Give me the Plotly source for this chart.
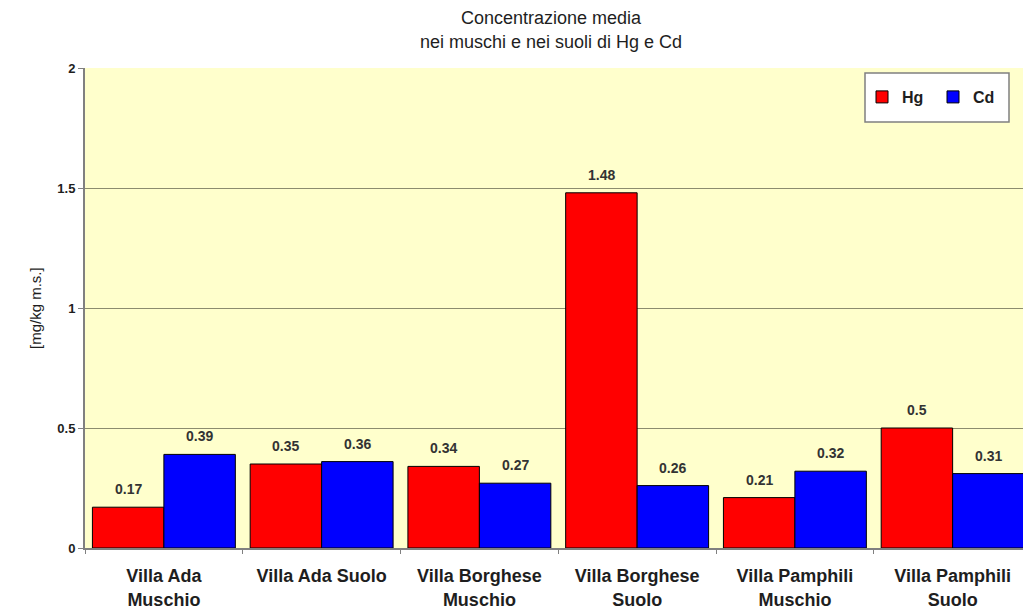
import plotly.graph_objects as go

categories = [
    "Villa Ada<br>Muschio",
    "Villa Ada Suolo",
    "Villa Borghese<br>Muschio",
    "Villa Borghese<br>Suolo",
    "Villa Pamphili<br>Muschio",
    "Villa Pamphili<br>Suolo",
]
hg = [0.17, 0.35, 0.34, 1.48, 0.21, 0.5]
cd = [0.39, 0.36, 0.27, 0.26, 0.32, 0.31]

title_lines = ["Concentrazione media", "nei muschi e nei suoli di Hg e Cd"]
y_title = "[mg/kg m.s.]"

series = [("Hg", hg, "#FF0000"), ("Cd", cd, "#0000FF")]

font_family = "Liberation Sans, Arial, sans-serif"
text_color = "#1E1E1E"
bar_gap = 0.094

# figure geometry (pixels) used to place paper-referenced items
W, H = 1023, 609
ML, MR, MT, MB = 85, 0, 68, 61
PW, PH = W - ML - MR, H - MT - MB


def px_x(px):
    return (px - ML) / PW


def px_y(py):
    return (H - MB - py) / PH


fig = go.Figure()
for name, values, color in series:
    fig.add_trace(go.Bar(
        name=f"<b>{name}</b>", x=categories, y=values,
        marker=dict(color=color, line=dict(color="#000000", width=1)),
    ))

# value labels above each bar, placed on the category axis at the bar centres
n_series = len(series)
slot = (1 - bar_gap) / n_series
annotations = []
for s, (name, values, color) in enumerate(series):
    offset = (s - (n_series - 1) / 2) * slot
    for i, v in enumerate(values):
        annotations.append(dict(
            x=i + offset, y=v, xref="x", yref="y",
            text=f"<b>{v:g}</b>", showarrow=False,
            xanchor="center", yanchor="bottom", yshift=8,
            font=dict(family=font_family, size=14, color="#333333"),
        ))

# y-axis title
annotations.append(dict(
    x=px_x(35), y=0.5, xref="paper", yref="paper",
    xanchor="center", yanchor="middle",
    text=y_title, textangle=-90, showarrow=False,
    font=dict(family=font_family, size=15, color=text_color),
))

# two-line chart title
for line, py in zip(title_lines, [18, 42]):
    annotations.append(dict(
        x=px_x(551), y=px_y(py), xref="paper", yref="paper",
        xanchor="center", yanchor="middle",
        text=line, showarrow=False,
        font=dict(family=font_family, size=18, color=text_color),
    ))

fig.update_layout(
    width=W, height=H,
    margin=dict(l=ML, r=MR, t=MT, b=MB),
    paper_bgcolor="white",
    plot_bgcolor="#FFFFCC",
    barmode="group",
    bargap=bar_gap,
    bargroupgap=0,
    font=dict(family=font_family, color=text_color),
    showlegend=True,
    legend=dict(
        orientation="h",
        x=px_x(862), xanchor="left", y=px_y(97), yanchor="middle",
        bgcolor="rgba(0,0,0,0)", borderwidth=0,
        font=dict(family=font_family, size=16, color=text_color),
        itemwidth=30, entrywidth=26,
    ),
    shapes=[dict(
        type="rect", xref="paper", yref="paper",
        x0=px_x(865), x1=px_x(1009), y0=px_y(122), y1=px_y(73),
        fillcolor="white", line=dict(color="#808080", width=1.5), layer="below",
    )],
    annotations=annotations,
    xaxis=dict(
        range=[-0.5, 5.446],
        tickson="boundaries",
        ticks="outside", ticklen=4, tickcolor="#808080",
        showline=True, linecolor="#808080", linewidth=1.5,
        showgrid=False,
        tickfont=dict(family=font_family, size=18, color=text_color),
        tickprefix="<b>", ticksuffix="</b>",
        ticklabelstandoff=11,
    ),
    yaxis=dict(
        range=[0, 2], dtick=0.5,
        ticks="outside", ticklen=5, tickcolor="#808080",
        showline=True, linecolor="#808080", linewidth=2,
        showgrid=True, gridcolor="#8C8C6E", gridwidth=1,
        zeroline=False,
        tickfont=dict(family=font_family, size=13, color=text_color),
        tickprefix="<b>", ticksuffix="</b>",
    ),
)

fig.write_html("out.html")
